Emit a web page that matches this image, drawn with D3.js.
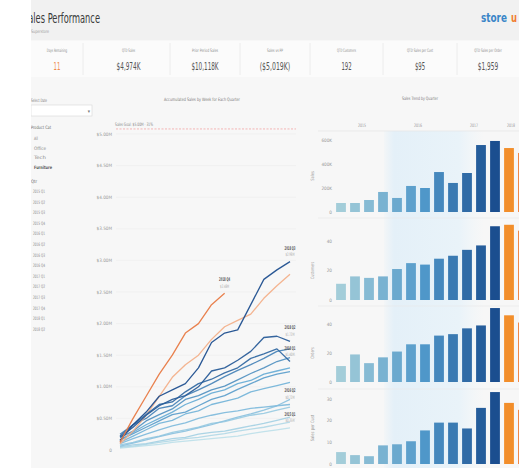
<!DOCTYPE html>
<html><head><meta charset="utf-8">
<script src="https://cdn.jsdelivr.net/npm/d3@7"></script>
<style>
html,body{margin:0;padding:0;background:#fff;overflow:hidden}
svg{display:block}
text{font-family:"Liberation Sans Narrow","DejaVu Sans Condensed","Liberation Sans",Arial,sans-serif}
</style></head>
<body><svg id="c" width="519" height="468"></svg>
<script>
// ---------- DATA ----------
const kpiLabels = ["Days Remaining","QTD Sales","Prior Period Sales","Sales vs PP","QTD Customers","QTD Sales per Cust","QTD Sales per Order"];
const kpiValues = ["11","$4,974K","$10,118K","($5,019K)","192","$95","$1,959"];

const categoryFilter = ["All","Office","Tech","Furniture"];
const quarters = ["2015 Q1","2015 Q2","2015 Q3","2015 Q4","2016 Q1","2016 Q2","2016 Q3","2016 Q4",
                  "2017 Q1","2017 Q2","2017 Q3","2017 Q4","2018 Q1","2018 Q2"];
const years = ["2015","2016","2017","2018"];

// Accumulated sales ($M) by week of quarter
const lineTicks = [0,0.5,1,1.5,2,2.5,3,3.5,4,4.5,5];
const salesGoal = 5.08;
const lineNames = ["2015 Q1","2015 Q2","2015 Q3","2015 Q4","2016 Q1","2016 Q2","2016 Q3","2016 Q4",
                   "2017 Q1","2017 Q2","2017 Q3","2017 Q4","2018 Q1","2018 Q2","2018 Q3","2018 Q4"];
const s15q1 = [0.03,0.05,0.07,0.09,0.12,0.14,0.16,0.18,0.20,0.22,0.26,0.29,0.32,0.35];
const s15q2 = [0.04,0.06,0.09,0.12,0.15,0.18,0.20,0.23,0.26,0.30,0.33,0.36,0.40,0.44];
const s15q3 = [0.05,0.08,0.10,0.14,0.18,0.20,0.25,0.28,0.30,0.34,0.38,0.42,0.47,0.52];
const s15q4 = [0.08,0.12,0.18,0.22,0.28,0.32,0.36,0.42,0.45,0.50,0.55,0.58,0.63,0.68];
const s16q1 = [0.06,0.11,0.16,0.21,0.26,0.30,0.35,0.40,0.46,0.52,0.57,0.63,0.70,0.80];
const s16q2 = [0.10,0.18,0.25,0.32,0.38,0.43,0.50,0.55,0.59,0.62,0.66,0.68,0.70,0.72];
const s16q3 = [0.12,0.22,0.32,0.42,0.47,0.57,0.62,0.72,0.77,0.82,0.92,0.97,1.02,1.07];
const s16q4 = [0.15,0.28,0.40,0.50,0.60,0.72,0.80,0.90,0.95,1.05,1.10,1.20,1.25,1.30];
const s17q1 = [0.16,0.26,0.36,0.46,0.56,0.60,0.70,0.80,0.86,0.96,1.05,1.14,1.20,1.24];
const s17q2 = [0.20,0.30,0.46,0.56,0.65,0.80,0.86,0.95,1.01,1.11,1.21,1.30,1.40,1.46];
const s17q3 = [0.25,0.40,0.50,0.66,0.70,0.86,0.95,1.05,1.16,1.26,1.35,1.45,1.56,1.60];
const s17q4 = [0.10,0.30,0.55,0.85,1.15,1.35,1.50,1.75,1.95,2.05,2.15,2.40,2.60,2.78];
const s18q1 = [0.22,0.40,0.56,0.72,0.76,0.92,1.05,1.12,1.22,1.30,1.45,1.52,1.60,1.40];
const s18q2 = [0.20,0.36,0.55,0.70,0.80,0.86,1.00,1.25,1.30,1.42,1.56,1.78,1.80,1.72];
const s18q3 = [0.15,0.40,0.60,0.85,0.95,1.05,1.30,1.70,1.85,1.90,2.30,2.70,2.85,2.98];
const s18q4 = [0.12,0.50,0.85,1.20,1.50,1.85,2.00,2.30,2.48];
const lineValues = [s15q1,s15q2,s15q3,s15q4,s16q1,s16q2,s16q3,s16q4,s17q1,s17q2,s17q3,s17q4,s18q1,s18q2,s18q3,s18q4];
const labeledLines = ["2015 Q1","2016 Q2","2018 Q1","2018 Q2","2018 Q3","2018 Q4"];

// Bar panels by quarter
const salesByQtr     = [75,75,100,167,117,217,200,333,242,325,558,592,533,492];   // $K
const custByQtr      = [11,16,15,16,21,25,24,28,30,34,37,50,51,47];
const ordersByQtr    = [11,19,13,17,21,26,26,32,33,37,39,51,46,41];
const perCustByQtr   = [5.5,4.1,3.6,8.6,9.1,10.5,15.5,19.1,19.1,16.4,25.9,33.2,28.2,25];
const panelNames = ["Sales","Customers","Orders","Sales per Cust"];
const panelTicks = [[0,200,400,600],[0,20,40],[0,20,40],[0,10,20,30]];
const panelTickLabels = [["0","200K","400K","600K"],["0","20","40"],["0","20","40"],["0","10","20","30"]];

// ---------- DRAW ----------
const svg = d3.select("#c");
const W = 519, H = 468;
const tiny = 4.6;

svg.append("rect").attr("width",W).attr("height",H).attr("fill","#f7f7f7");
svg.append("rect").attr("width",W).attr("height",40).attr("fill","#f1f1f1");
svg.append("rect").attr("x",31).attr("y",41).attr("width",W-31).attr("height",36).attr("fill","#fbfbfb");

// Title
svg.append("text").attr("x",23).attr("y",23).attr("font-size",14).attr("fill","#3a3a3a")
  .attr("textLength",77).attr("lengthAdjust","spacingAndGlyphs").text("Sales Performance");
svg.append("text").attr("x",31).attr("y",33).attr("font-size",tiny).attr("fill","#999")
  .attr("textLength",18).attr("lengthAdjust","spacingAndGlyphs").text("Superstore");

// Logo
svg.append("text").attr("x",481).attr("y",22).attr("font-size",13).attr("font-weight","bold").attr("fill","#3a86c8")
  .attr("textLength",26).attr("lengthAdjust","spacingAndGlyphs").text("store");
svg.append("text").attr("x",511).attr("y",22).attr("font-size",13).attr("font-weight","bold").attr("fill","#f07c2e")
  .attr("textLength",6).attr("lengthAdjust","spacingAndGlyphs").text("u");

// KPIs
const kpiEdges = [31,83,170,240,310,383,457,519];
kpiValues.forEach((v,i)=>{
  const cx = (kpiEdges[i]+kpiEdges[i+1])/2 + (i===1?2:0);
  svg.append("text").attr("x",cx).attr("y",52).attr("text-anchor","middle").attr("font-size",tiny).attr("fill","#8a8a8a")
    .attr("textLength",kpiLabels[i].length*1.45).attr("lengthAdjust","spacingAndGlyphs").text(kpiLabels[i]);
  svg.append("text").attr("x",cx).attr("y",70).attr("text-anchor","middle").attr("font-size",11)
    .attr("fill", i===0 ? "#ef8a4a" : "#555")
    .attr("textLength",v.length*3.4).attr("lengthAdjust","spacingAndGlyphs").text(v);
  if(i>0) svg.append("line").attr("x1",kpiEdges[i]).attr("x2",kpiEdges[i]).attr("y1",43).attr("y2",75).attr("stroke","#ececec");
});

// Left filters
svg.append("text").attr("x",31).attr("y",102).attr("font-size",tiny).attr("fill","#777")
  .attr("textLength",16).attr("lengthAdjust","spacingAndGlyphs").text("Select Date");
svg.append("rect").attr("x",31).attr("y",105).attr("width",61).attr("height",11).attr("fill","#fff").attr("stroke","#d8d8d8").attr("stroke-width",0.6);
svg.append("text").attr("x",89).attr("y",113).attr("font-size",5).attr("fill","#777").attr("text-anchor","middle").text("▾");
svg.append("text").attr("x",31).attr("y",129).attr("font-size",tiny).attr("fill","#666")
  .attr("textLength",20).attr("lengthAdjust","spacingAndGlyphs").text("Product Cat");
categoryFilter.forEach((c,i)=>{
  svg.append("text").attr("x",34).attr("y",140+i*9.7).attr("font-size",tiny)
    .attr("fill", i===3 ? "#555" : "#888").attr("font-weight", i===3 ? "bold":"normal")
    .attr("textLength", i===0?4: (i===3?18:12)).attr("lengthAdjust","spacingAndGlyphs").text(c);
});
svg.append("text").attr("x",31).attr("y",183).attr("font-size",tiny).attr("fill","#666")
  .attr("textLength",6).attr("lengthAdjust","spacingAndGlyphs").text("Qtr");
quarters.forEach((q,i)=>{
  svg.append("text").attr("x",33).attr("y",193+i*10.6).attr("font-size",tiny).attr("fill","#888")
    .attr("textLength",12).attr("lengthAdjust","spacingAndGlyphs").text(q);
});

// ---------- Line chart ----------
svg.append("text").attr("x",202).attr("y",101).attr("text-anchor","middle").attr("font-size",tiny).attr("fill","#777")
  .attr("textLength",76).attr("lengthAdjust","spacingAndGlyphs").text("Accumulated Sales by Week for Each Quarter");

const x = d3.scaleLinear().domain([0,13]).range([120,290]);
const y = d3.scaleLinear().domain([0,5]).range([450,134]);

const gy = svg.append("g");
lineTicks.forEach(t=>{
  if(t>0) gy.append("line").attr("x1",116).attr("x2",296).attr("y1",y(t)).attr("y2",y(t)).attr("stroke","#ededed").attr("stroke-width",0.6);
  gy.append("text").attr("x",112).attr("y",y(t)+1.6).attr("text-anchor","end").attr("font-size",tiny).attr("fill","#999")
    .text(t===0?"0":d3.format("$.2f")(t)+"M");
});
// goal line
svg.append("line").attr("x1",116).attr("x2",296).attr("y1",y(salesGoal)).attr("y2",y(salesGoal))
  .attr("stroke","#f2a3a3").attr("stroke-width",0.8).attr("stroke-dasharray","2,1.5");
svg.append("text").attr("x",115).attr("y",y(salesGoal)-2.5).attr("font-size",tiny).attr("fill","#888")
  .attr("textLength",38).attr("lengthAdjust","spacingAndGlyphs").text("Sales Goal: $5.00M · 31%");

const blueLine = d3.scaleLinear().domain([0,7,14]).range(["#bfe0ea","#6aaed6","#1f4f8f"]);
function lineColor(name,i){
  if(name==="2018 Q4") return "#e87a45";
  if(name==="2017 Q4") return "#f3b08a";
  return blueLine(i);
}
const line = d3.line().x((d,i)=>x(i)).y(d=>y(d));
lineNames.forEach((n,i)=>{
  svg.append("path").datum(lineValues[i]).attr("d",line).attr("fill","none")
    .attr("stroke",lineColor(n,i)).attr("stroke-width",1.3).attr("stroke-linejoin","round").attr("opacity",0.95);
});
lineNames.forEach((n,i)=>{
  if(!labeledLines.includes(n)) return;
  const vals = lineValues[i], k = vals.length-1;
  const ex = x(k), ey = y(vals[k]);
  svg.append("text").attr("x",ex).attr("y",ey-12).attr("text-anchor","middle").attr("font-size",5).attr("font-weight","bold").attr("fill","#555")
    .attr("textLength",11).attr("lengthAdjust","spacingAndGlyphs").text(n);
  svg.append("text").attr("x",ex).attr("y",ey-5.5).attr("text-anchor","middle").attr("font-size",tiny).attr("fill","#aaa")
    .attr("textLength",9).attr("lengthAdjust","spacingAndGlyphs").text(d3.format("$.2f")(vals[k])+"M");
});

// ---------- Bar chart ----------
svg.append("text").attr("x",420).attr("y",100).attr("text-anchor","middle").attr("font-size",tiny).attr("fill","#777")
  .attr("textLength",36).attr("lengthAdjust","spacingAndGlyphs").text("Sales Trend by Quarter");

const defs = svg.append("defs");
const grad = defs.append("linearGradient").attr("id","band").attr("x1","0").attr("x2","1");
grad.append("stop").attr("offset","0").attr("stop-color","#e4f0f8").attr("stop-opacity",0.2);
grad.append("stop").attr("offset","0.1").attr("stop-color","#e4f0f8").attr("stop-opacity",1);
grad.append("stop").attr("offset","0.75").attr("stop-color","#e9f3f9").attr("stop-opacity",1);
grad.append("stop").attr("offset","1").attr("stop-color","#eef5f9").attr("stop-opacity",0);
svg.append("rect").attr("x",384).attr("y",131).attr("width",100).attr("height",337).attr("fill","url(#band)");

const xb = d3.scaleBand().domain(quarters).range([334,530]).paddingInner(0.3).paddingOuter(0.15);
svg.append("line").attr("x1",318).attr("x2",519).attr("y1",131).attr("y2",131).attr("stroke","#e3e3e3").attr("stroke-width",0.6);
years.forEach((yr,k)=>{
  const cx = (xb(quarters[Math.min(4*k,13)]) + (xb(quarters[Math.min(4*k+3,13)]) + xb.bandwidth()))/2;
  svg.append("text").attr("x",k===3?511:cx).attr("y",127).attr("text-anchor","middle").attr("font-size",tiny).attr("fill","#999")
    .attr("textLength",8).attr("lengthAdjust","spacingAndGlyphs").text(yr);
});

const barColor = d3.scaleLinear().domain([0,6,11]).range(["#a3cdd9","#4f97c9","#1b4e8f"]);
function bColor(i){ return i===12 ? "#f28e2b" : (i===13 ? "#f07b34" : barColor(i)); }

const panelData = [salesByQtr,custByQtr,ordersByQtr,perCustByQtr];
const panelRanges = [[212,140],[300,241],[382,324],[464,399]];
const panelDomains = [[0,600],[0,40],[0,40],[0,30]];
const sepY = [218,306,389];
sepY.forEach(s=>svg.append("line").attr("x1",318).attr("x2",519).attr("y1",s).attr("y2",s).attr("stroke","#e8e8e8").attr("stroke-width",0.6));

panelData.forEach((vals,p)=>{
  const yp = d3.scaleLinear().domain(panelDomains[p]).range(panelRanges[p]);
  panelTicks[p].forEach((t,j)=>{
    svg.append("text").attr("x",332).attr("y",yp(t)+1.6).attr("text-anchor","end").attr("font-size",tiny).attr("fill","#999")
      .text(panelTickLabels[p][j]);
  });
  const mid = p===3 ? 428 : (panelRanges[p][0]+panelRanges[p][1])/2;
  svg.append("text").attr("transform",`translate(314,${mid}) rotate(-90)`).attr("text-anchor","middle")
    .attr("font-size",tiny).attr("fill","#999")
    .attr("textLength",panelNames[p].length*1.9).attr("lengthAdjust","spacingAndGlyphs").text(panelNames[p]);
  svg.append("g").selectAll("rect").data(vals).join("rect")
    .attr("x",(d,i)=>xb(quarters[i])).attr("width",xb.bandwidth())
    .attr("y",d=>yp(d)).attr("height",d=>yp(0)-yp(d))
    .attr("fill",(d,i)=>bColor(i));
});

// white strip at left edge
svg.append("rect").attr("x",0).attr("y",0).attr("width",31).attr("height",H).attr("fill","#fff");
</script></body></html>
